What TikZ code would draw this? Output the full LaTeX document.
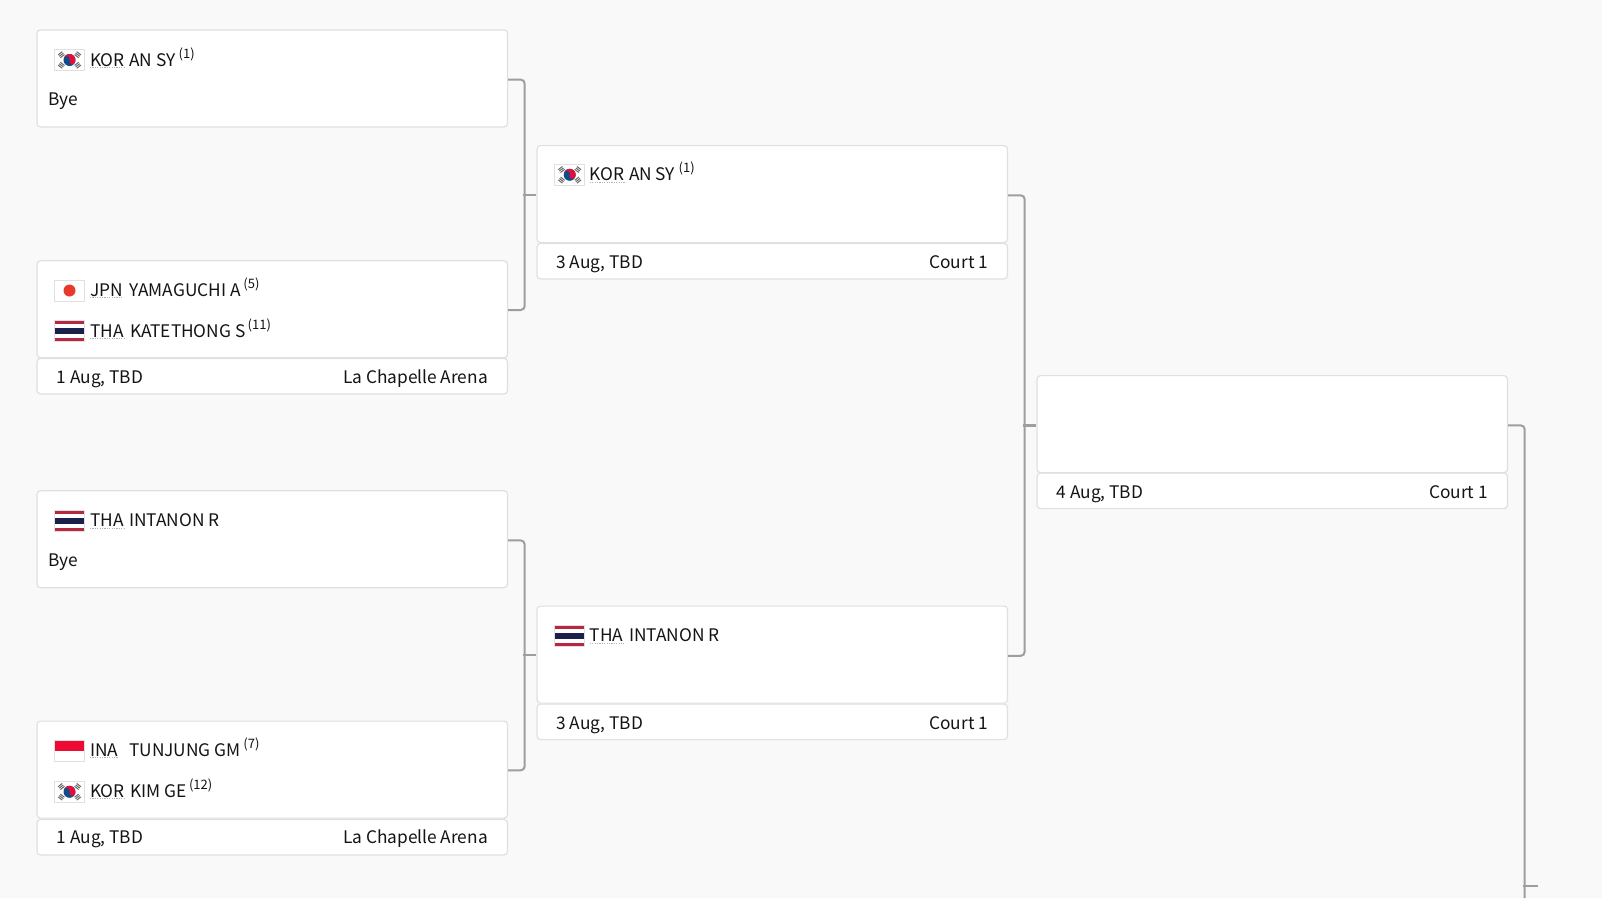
\documentclass[tikz,border=0pt]{standalone}
\usepackage{fontspec}
\setmainfont{Noto Sans CJK SC}
\definecolor{pagebg}{HTML}{F9F9F9}
\definecolor{edgegray}{HTML}{E0E0E0}
\definecolor{conn}{HTML}{9E9E9E}
\definecolor{ink}{HTML}{141414}
\definecolor{korred}{HTML}{E0103A}
\definecolor{korblue}{HTML}{0F4C8A}
\definecolor{triggray}{HTML}{666666}
\definecolor{tred}{HTML}{B5283F}
\definecolor{tblue}{HTML}{1A1F4B}
\definecolor{jred}{HTML}{E8392C}
\definecolor{ired}{HTML}{EE0A32}
\tikzset{
  x=1pt,y=-1pt,
  matchbox/.style={draw=edgegray,line width=1.2pt,fill=white,rounded corners=3.5pt,minimum width=470.5pt,inner sep=0pt,anchor=north west},
  mainbox/.style={matchbox,minimum height=97pt},
  footbox/.style={matchbox,minimum height=35.5pt},
  txt/.style={anchor=base west,inner sep=0pt,text=ink,font=\fontsize{17.3}{20}\selectfont},
  txtr/.style={txt,anchor=base east},
  suptxt/.style={anchor=base west,inner sep=0pt,text=ink,font=\fontsize{13}{14}\selectfont},
  under/.style={draw=black!30,line width=0.9pt,dash pattern=on 1.2pt off 1.2pt},
  bracket/.style={draw=conn,line width=2pt,rounded corners=4pt},
  tick/.style={draw=conn,line width=2pt},
  flagedge/.style={draw=edgegray,line width=0.9pt}
}
% #1 id, #2 flag x, #3 baseline, #4 code, #5 name x, #6 name, #7 sup x, #8 sup
\newcommand{\playerrow}[8]{%
  \node[txt] (#1code) at (#2+35.4,#3+0.8) {#4};
  \node[txt] (#1name) at (#5-0.2,#3+0.8) {#6};
  \draw[under] ([yshift=-1.6pt]#1code.base west) -- ([yshift=-1.6pt]#1code.base east);
  \if\relax#8\relax\else
  \node[suptxt] (#1sup) at (#7-0.8,#3-6.9) {#8};
  \fi
}
\newcommand{\flagtri}[3]{% x y angle
  \begin{scope}[shift={(#1,#2)},rotate=#3]
    \fill[triggray] (-2.6pt,-2.3pt) rectangle (2.6pt,-1.3pt);
    \fill[triggray] (-2.6pt,-0.5pt) rectangle (2.6pt,0.5pt);
    \fill[triggray] (-2.6pt,1.3pt) rectangle (2.6pt,2.3pt);
  \end{scope}}
\newcommand{\flagkor}[2]{%
  \begin{scope}[shift={(#1,#2)}]
    \filldraw[flagedge,fill=white] (0,0) rectangle (30,21);
    \begin{scope}[shift={(15,10.5)},rotate=-20]
      \fill[korblue] (0pt,0pt) circle[radius=6pt];
      \fill[korred] (-6pt,0pt) arc[start angle=180,end angle=0,radius=6pt]
        arc[start angle=0,end angle=-180,radius=3pt]
        arc[start angle=0,end angle=180,radius=3pt]--cycle;
    \end{scope}
    \flagtri{6.8}{5.2}{38}
    \flagtri{23.2}{5.2}{-38}
    \flagtri{6.8}{15.8}{-38}
    \flagtri{23.2}{15.8}{38}
  \end{scope}}
\newcommand{\flagtha}[2]{%
  \begin{scope}[shift={(#1,#2)}]
    \filldraw[flagedge,fill=white] (0,0) rectangle (30,21);
    \fill[tred] (0.5,0.5) rectangle (29.5,3.8);
    \fill[tblue] (0.5,7.3) rectangle (29.5,13.7);
    \fill[tred] (0.5,17.2) rectangle (29.5,20.5);
  \end{scope}}
\newcommand{\flagjpn}[2]{%
  \begin{scope}[shift={(#1,#2)}]
    \filldraw[flagedge,fill=white] (0,0) rectangle (30,21);
    \fill[jred] (15,10.5) circle[radius=6pt];
  \end{scope}}
\newcommand{\flagina}[2]{%
  \begin{scope}[shift={(#1,#2)}]
    \filldraw[flagedge,fill=white] (0,0) rectangle (30,21);
    \fill[ired] (0.5,0.5) rectangle (29.5,10.5);
  \end{scope}}
\begin{document}
\begin{tikzpicture}
\useasboundingbox (0,0) rectangle (1602,898);
\fill[pagebg] (0,0) rectangle (1602,898);

% first column
\node[mainbox] (a1) at (36.4,29.3) {};
\node[footbox] (af2) at (36.4,357.8) {};
\node[mainbox] (a2) at (36.4,260.2) {};
\node[mainbox] (a3) at (36.4,490.1) {};
\node[footbox] (af4) at (36.4,818.8) {};
\node[mainbox] (a4) at (36.4,720.5) {};
% second column
\node[footbox] (bf1) at (536.4,242.8) {};
\node[mainbox] (b1) at (536.4,145) {};
\node[footbox] (bf2) at (536.4,703.5) {};
\node[mainbox] (b2) at (536.4,605.5) {};
% third column
\node[footbox] (cf1) at (1036.4,472.5) {};
\node[mainbox] (c1) at (1036.4,375) {};

% connectors
\coordinate (j1) at (524.7,195);
\coordinate (j2) at (524.7,655.3);
\coordinate (j3) at (1024.7,425.3);
\coordinate (j4) at (1524.7,885.7);
\coordinate (j4end) at (1524.7,898);
\draw[bracket] ([yshift=-1.2pt]a1.east) -| (j1) |- ([yshift=-0.7pt]a2.east);
\draw[bracket] ([yshift=-1.2pt]a3.east) -| (j2) |- ([yshift=-0.7pt]a4.east);
\draw[bracket] ([yshift=-1.2pt]b1.east) -| (j3) |- ([yshift=-1.2pt]b2.east);
\draw[bracket] ([yshift=-1.2pt]c1.east) -| (j4end);
\draw[tick,line width=1.6pt] ([xshift=-2pt]j1) -- (j1-|b1.west);
\draw[tick] ([xshift=-2pt]j2) -- (j2-|b2.west);
\draw[tick,line width=3pt] ([xshift=-2pt]j3) -- (j3-|c1.west);
\draw[tick] ([xshift=-2pt]j4) -- ([xshift=13.5pt]j4);

% box a1
\flagkor{54.5}{49.5}
\playerrow{p1}{54.5}{65.3}{KOR}{129.3}{AN SY}{179.3}{(1)}
\node[txt] (bye1) at (48.5,105.7) {Bye};
% box a2
\flagjpn{54.5}{280}
\playerrow{p2}{54.5}{295.3}{JPN}{129.3}{YAMAGUCHI A}{244}{(5)}
\flagtha{54.5}{320.5}
\playerrow{p3}{54.5}{336.3}{THA}{130}{KATETHONG S}{248.3}{(11)}
\node[txt] (d1) at (56.6,383.3) {1 Aug, TBD};
\node[txtr] (v1) at (488,383.3) {La Chapelle Arena};
% box a3
\flagtha{54.5}{510.5}
\playerrow{p4}{54.5}{525.6}{THA}{129.3}{INTANON R}{0}{}
\node[txt] (bye2) at (48.5,566.6) {Bye};
% box a4
\flagina{54.5}{740.7}
\playerrow{p5}{54.5}{755.5}{INA}{129.3}{TUNJUNG GM}{244}{(7)}
\flagkor{54.5}{781.3}
\playerrow{p6}{54.5}{796.2}{KOR}{130}{KIM GE}{189.7}{(12)}
\node[txt] (d2) at (56.6,843.8) {1 Aug, TBD};
\node[txtr] (v2) at (488,843.8) {La Chapelle Arena};
% box b1
\flagkor{554.7}{164.3}
\playerrow{p7}{554.3}{179.8}{KOR}{629}{AN SY}{679.3}{(1)}
\node[txt] (d3) at (556.3,268.3) {3 Aug, TBD};
\node[txtr] (v3) at (988.2,268.3) {Court 1};
% box b2
\flagtha{554.7}{625.5}
\playerrow{p8}{554.3}{641}{THA}{629}{INTANON R}{0}{}
\node[txt] (d4) at (556.3,729) {3 Aug, TBD};
\node[txtr] (v4) at (988.2,729) {Court 1};
% box c1
\node[txt] (d5) at (1056.5,498) {4 Aug, TBD};
\node[txtr] (v5) at (1488,498) {Court 1};
\end{tikzpicture}
\end{document}
